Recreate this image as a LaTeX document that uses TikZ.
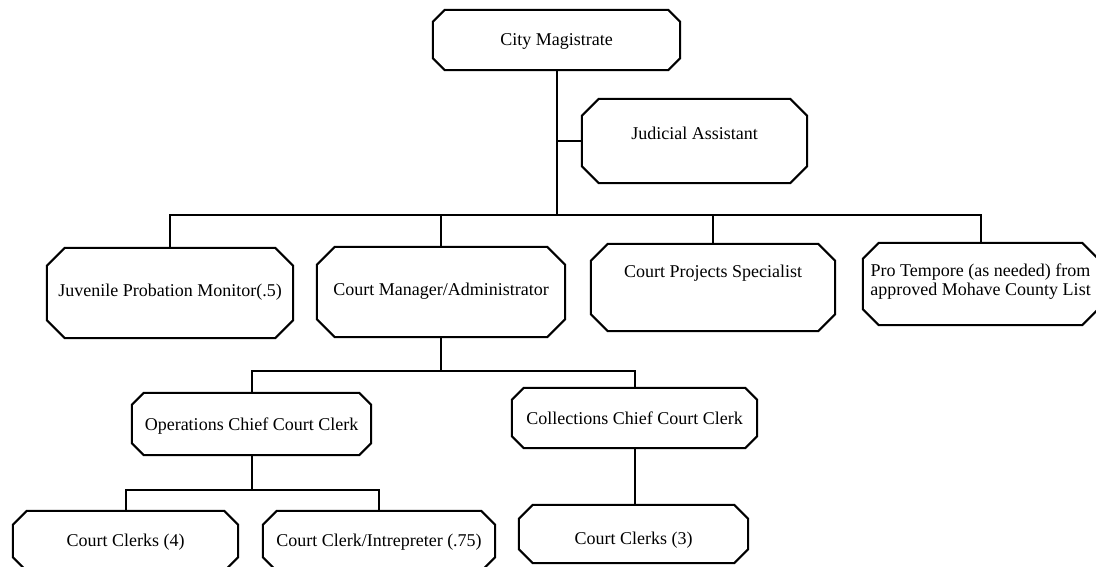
\documentclass[tikz,border=0pt]{standalone}
\usepackage{fontspec}
\setmainfont{Liberation Serif}
\usetikzlibrary{calc}

% Octagonal (chamfered) outline around a named node
\newcommand\octbox[2]{%
  \draw[boxline]
    ($(#1.north west)+(#2,0)$) -- ($(#1.north east)+(-#2,0)$) --
    ($(#1.north east)+(0,#2)$) -- ($(#1.south east)+(0,-#2)$) --
    ($(#1.south east)+(-#2,0)$) -- ($(#1.south west)+(#2,0)$) --
    ($(#1.south west)+(0,-#2)$) -- ($(#1.north west)+(0,#2)$) -- cycle;}

\begin{document}
\begin{tikzpicture}[x=1pt,y=-1pt,
  boxline/.style={line width=2pt, line join=miter},
  frame/.style={draw=none, inner sep=0pt, rectangle},
  lbl/.style={inner sep=0pt, align=center, text height=12pt, text depth=3.5pt,
    font=\fontsize{18}{19}\selectfont},
  link/.style={line width=2pt}]
\useasboundingbox (0,0) rectangle (1096,567);
\clip (0,0) rectangle (1096,567);

% box frames
\node[frame, minimum width=247pt, minimum height=60pt] (mag) at (556.5,40) {};
\node[frame, minimum width=225pt, minimum height=84pt] (jud) at (694.5,141) {};
\node[frame, minimum width=246pt, minimum height=90pt] (juv) at (170,293) {};
\node[frame, minimum width=248pt, minimum height=90pt] (mgr) at (441,292) {};
\node[frame, minimum width=244pt, minimum height=87pt] (cps) at (713,287.5) {};
\node[frame, minimum width=235pt, minimum height=82pt] (pro) at (980.5,284) {};
\node[frame, minimum width=239pt, minimum height=62pt] (ops) at (251.5,424) {};
\node[frame, minimum width=245pt, minimum height=60pt] (col) at (634.5,418) {};
\node[frame, minimum width=225pt, minimum height=60pt] (cc4) at (125.5,541) {};
\node[frame, minimum width=232pt, minimum height=60pt] (cci) at (379,541) {};
\node[frame, minimum width=229pt, minimum height=58pt] (cc3) at (633.5,534) {};

% outlines
\octbox{mag}{12}
\octbox{jud}{17}
\octbox{juv}{18}
\octbox{mgr}{18}
\octbox{cps}{17}
\octbox{pro}{16}
\octbox{ops}{12}
\octbox{col}{12}
\octbox{cc4}{14}
\octbox{cci}{14}
\octbox{cc3}{14}

% titles
\node[lbl] (magT) at (556.5,41) {City Magistrate};
\node[lbl] (judT) at (694.5,135) {Judicial Assistant};
\node[lbl] (juvT) at (170,292) {Juvenile Probation Monitor(.5)};
\node[lbl] (mgrT) at (441,291) {Court Manager/Administrator};
\node[lbl] (cpsT) at (713,273) {Court Projects Specialist};
\node[lbl, text height=, text depth=] (proT) at (980.5,282) {Pro Tempore (as needed) from\\approved Mohave County List};
\node[lbl] (opsT) at (251.5,426) {Operations Chief Court Clerk};
\node[lbl] (colT) at (634.5,420) {Collections Chief Court Clerk};
\node[lbl] (cc4T) at (125.5,542) {Court Clerks (4)};
\node[lbl] (cciT) at (379,542) {Court Clerk/Intrepreter (.75)};
\node[lbl] (cc3T) at (633.5,540) {Court Clerks (3)};

% junction points of the connector lines
\coordinate (b1) at (556.5,215);
\coordinate (b2) at (441,371);
\coordinate (b3) at (251.5,490);

% connectors
\draw[link] (mag.south) -- (b1);
\draw[link] (jud.west) -- (jud.west -| mag.south);
\draw[link] (juv.north) |- (b1) -| (pro.north);
\draw[link] (mgr.north) -- (mgr.north |- b1);
\draw[link] (cps.north) -- (cps.north |- b1);
\draw[link] (mgr.south) -- (b2);
\draw[link] (ops.north) |- (b2) -| (col.north);
\draw[link] (ops.south) -- (b3);
\draw[link] (cc4.north) |- (b3) -| (cci.north);
\draw[link] (col.south) -- (col.south |- cc3.north);
\end{tikzpicture}
\end{document}
